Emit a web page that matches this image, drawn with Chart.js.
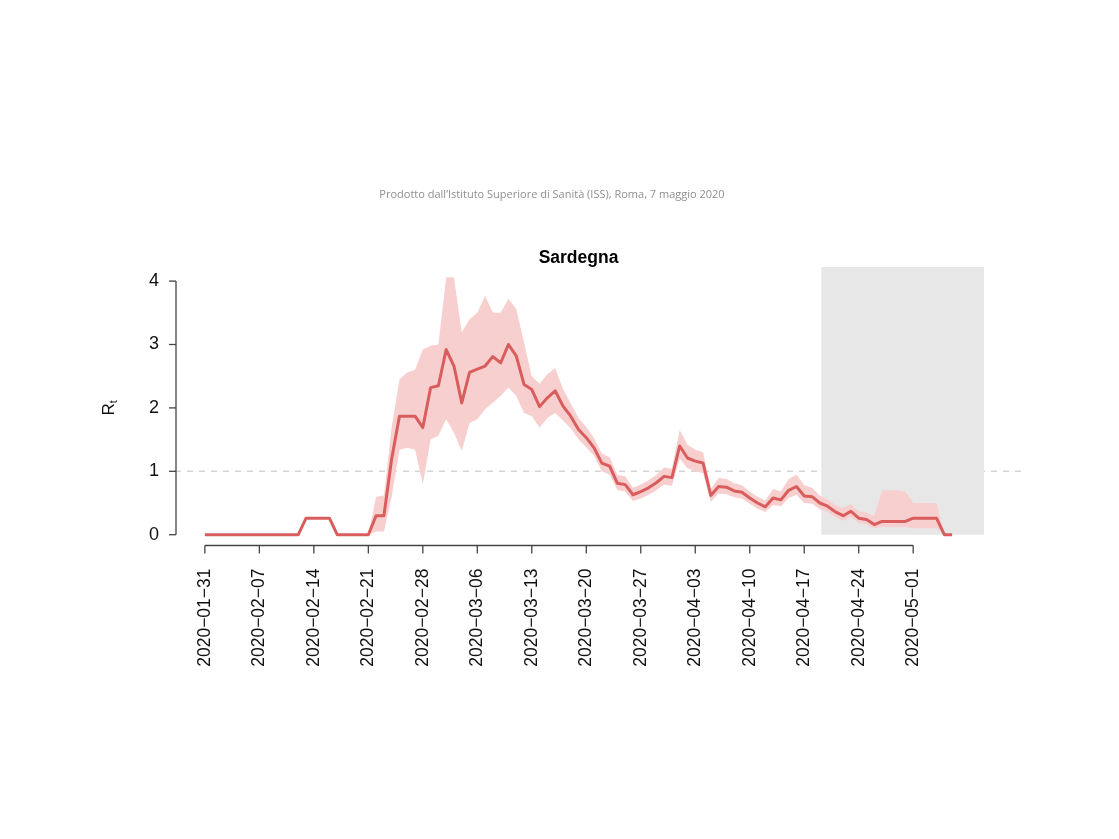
<!DOCTYPE html>
<html>
<head>
<meta charset="utf-8">
<title>Sardegna Rt</title>
<script src="https://cdn.jsdelivr.net/npm/chart.js@4.4.1/dist/chart.umd.min.js"></script>
<style>
html,body{margin:0;padding:0;background:#fff;}
canvas{display:block;}
</style>
</head>
<body>
<canvas id="rt-canvas" width="1119" height="839"></canvas>
<script>
/* ── data: days since 2020-01-31 ── */
const START_DAY='2020-01-31';
const RT=[
  0,0,0,0,0,0,0,0,0,0,0,0,0,
  0.26,0.26,0.26,0.26,
  0,0,0,0,0,
  0.3,0.3,1.2,1.87,1.87,1.87,1.69,2.32,2.35,2.92,
  2.66,2.08,2.56,2.61,2.66,2.81,2.71,3.0,2.82,2.37,
  2.29,2.02,2.16,2.27,2.03,1.87,1.66,1.53,1.37,1.13,
  1.08,0.81,0.79,0.63,0.68,0.74,0.82,0.92,0.9,1.4,
  1.21,1.16,1.13,0.62,0.76,0.75,0.69,0.67,0.58,0.5,
  0.44,0.58,0.55,0.7,0.76,0.61,0.6,0.5,0.45,0.36,
  0.3,0.37,0.26,0.24,0.16,0.21,0.21,0.21,0.21,0.26,
  0.26,0.26,0.26,0,0
];
const RT_LOW=[
  0,0,0,0,0,0,0,0,0,0,0,0,0,
  0.26,0.26,0.26,0.26,
  0,0,0,0,0,
  0.05,0.05,0.6,1.34,1.37,1.34,0.8,1.5,1.56,1.82,
  1.61,1.32,1.76,1.82,1.98,2.08,2.19,2.32,2.19,1.92,
  1.87,1.69,1.84,1.92,1.8,1.68,1.5,1.38,1.24,1.0,
  0.95,0.7,0.68,0.53,0.57,0.63,0.7,0.79,0.77,1.2,
  1.05,1.0,0.97,0.52,0.65,0.64,0.59,0.57,0.49,0.41,
  0.36,0.47,0.45,0.58,0.63,0.5,0.49,0.4,0.36,0.28,
  0.22,0.28,0.18,0.16,0.1,0.12,0.12,0.12,0.12,0.1,
  0.1,0.1,0.1,0,0
];
const RT_HIGH=[
  0,0,0,0,0,0,0,0,0,0,0,0,0,
  0.26,0.26,0.26,0.26,
  0,0,0,0,0,
  0.6,0.62,1.7,2.45,2.56,2.6,2.92,2.98,3.0,4.06,
  4.06,3.19,3.4,3.5,3.77,3.5,3.5,3.72,3.56,3.03,
  2.5,2.38,2.53,2.63,2.3,2.07,1.84,1.7,1.52,1.28,
  1.22,0.94,0.92,0.74,0.79,0.86,0.94,1.06,1.04,1.65,
  1.42,1.34,1.3,0.72,0.9,0.88,0.81,0.78,0.68,0.6,
  0.54,0.72,0.68,0.88,0.95,0.78,0.74,0.62,0.56,0.47,
  0.42,0.48,0.37,0.35,0.29,0.7,0.7,0.7,0.68,0.5,
  0.5,0.5,0.5,0,0
];
const X_TICK_DAYS=[0,7,14,21,28,35,42,49,56,63,70,77,84,91];
const X_TICK_LABELS=['2020-01-31','2020-02-07','2020-02-14','2020-02-21','2020-02-28','2020-03-06','2020-03-13',
  '2020-03-20','2020-03-27','2020-04-03','2020-04-10','2020-04-17','2020-04-24','2020-05-01'];
const Y_TICKS=[0,1,2,3,4];
const SHADE=[79.2,100.1];   // grey box, in days
const THRESHOLD=1;
const TITLE='Sardegna';
const SUBTITLE='Prodotto dall\u2019Istituto Superiore di Sanità (ISS), Roma, 7 maggio 2020';

const pts=a=>a.map((v,i)=>({x:i,y:v}));
const FONT='"Liberation Sans", Arial, Helvetica, sans-serif';

/* ── R-style decorations: shade, threshold, axes, text ── */
const rDecor={
  id:'rDecor',
  beforeDatasetsDraw(chart){
    const {ctx,scales:{x,y}}=chart;
    ctx.save();
    // dashed threshold line
    ctx.strokeStyle='#d4d4d4';ctx.lineWidth=1.5;ctx.setLineDash([6,6]);
    ctx.beginPath();ctx.moveTo(x.getPixelForValue(x.min),y.getPixelForValue(THRESHOLD));
    ctx.lineTo(x.getPixelForValue(105),y.getPixelForValue(THRESHOLD));ctx.stroke();
    ctx.setLineDash([]);
    // grey box
    const x0=x.getPixelForValue(SHADE[0]),x1=x.getPixelForValue(SHADE[1]);
    const yt=y.getPixelForValue(y.max),yb=y.getPixelForValue(0);
    ctx.fillStyle='#e7e7e7';ctx.fillRect(x0,yt,x1-x0,yb-yt);
    ctx.restore();
  },
  afterDraw(chart){
    const {ctx,chartArea:ca,scales:{x,y}}=chart;
    ctx.save();
    ctx.strokeStyle='#444';ctx.lineWidth=1.3;ctx.fillStyle='#111';
    // y axis
    const ax=ca.left+1;
    ctx.beginPath();ctx.moveTo(ax,y.getPixelForValue(Y_TICKS[0]));ctx.lineTo(ax,y.getPixelForValue(Y_TICKS[Y_TICKS.length-1]));ctx.stroke();
    ctx.font='18px '+FONT;ctx.textAlign='right';ctx.textBaseline='middle';
    Y_TICKS.forEach(v=>{
      const py=y.getPixelForValue(v);
      ctx.beginPath();ctx.moveTo(ax,py);ctx.lineTo(ax-7,py);ctx.stroke();
      ctx.fillText(String(v),ax-17,py);
    });
    // x axis
    const ay=ca.bottom+0.5;
    ctx.font='17.5px '+FONT;
    ctx.beginPath();ctx.moveTo(x.getPixelForValue(X_TICK_DAYS[0]),ay);ctx.lineTo(x.getPixelForValue(X_TICK_DAYS[X_TICK_DAYS.length-1]),ay);ctx.stroke();
    X_TICK_DAYS.forEach((d,i)=>{
      const px=x.getPixelForValue(d);
      ctx.beginPath();ctx.moveTo(px,ay);ctx.lineTo(px,ay+8);ctx.stroke();
      ctx.save();ctx.translate(px,ay+23);ctx.rotate(-Math.PI/2);
      ctx.textAlign='right';ctx.textBaseline='middle';
      ctx.fillText(X_TICK_LABELS[i].replace(/-/g,'\u2212'),0,0);
      ctx.restore();
    });
    // y title R_t
    ctx.save();ctx.translate(114,y.getPixelForValue(2));ctx.rotate(-Math.PI/2);
    ctx.textBaseline='alphabetic';ctx.textAlign='left';
    ctx.font='17px '+FONT;const wR=ctx.measureText('R').width;
    ctx.font='11px '+FONT;const wt=ctx.measureText('t').width;
    const sx=-(wR+wt)/2;
    ctx.font='17px '+FONT;ctx.fillText('R',sx,0);
    ctx.font='11px '+FONT;ctx.fillText('t',sx+wR,3);
    ctx.restore();
    // title + credit line
    const cx=(ca.left+ca.right)/2;
    ctx.textAlign='center';ctx.textBaseline='alphabetic';
    ctx.font='bold 17.5px '+FONT;ctx.fillStyle='#000';ctx.fillText(TITLE,cx,263);
    ctx.font='11px "Open Sans", Lato, sans-serif';ctx.fillStyle='#8f8f8f';ctx.fillText(SUBTITLE,552,198);
    ctx.restore();
  }
};

new Chart(document.getElementById('rt-canvas'),{
  type:'line',
  data:{datasets:[
    {label:'low',data:pts(RT_LOW),borderWidth:0,pointRadius:0,fill:false,tension:0,order:3},
    {label:'high',data:pts(RT_HIGH),borderWidth:0,pointRadius:0,fill:'-1',backgroundColor:'#f8cfcf',tension:0,order:2},
    {label:'Rt',data:pts(RT),borderColor:'#da5d5d',borderWidth:3,pointRadius:0,fill:false,tension:0,order:1,borderJoinStyle:'round'}
  ]},
  options:{
    responsive:false,animation:false,
    layout:{padding:{left:175,right:137,top:267,bottom:294}},
    plugins:{legend:{display:false},tooltip:{enabled:false},title:{display:false}},
    scales:{
      x:{type:'linear',display:false,min:-3.84,max:99.84},
      y:{type:'linear',display:false,min:-0.1624,max:4.2224}
    }
  },
  plugins:[rDecor]
});
</script>
</body>
</html>
